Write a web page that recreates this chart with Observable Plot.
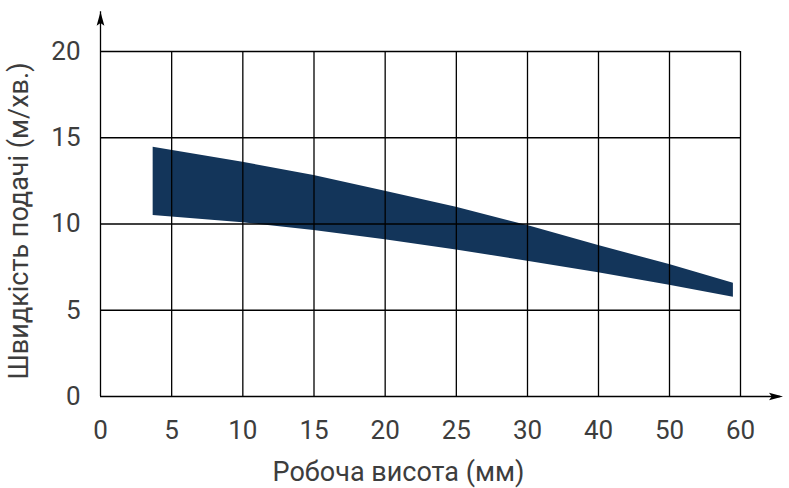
<!DOCTYPE html>
<html>
<head>
<meta charset="utf-8">
<script src="https://cdn.jsdelivr.net/npm/d3@7"></script>
<script src="https://cdn.jsdelivr.net/npm/@observablehq/plot@0.6"></script>
<style>
  html, body { margin: 0; padding: 0; background: #fff; }
  #chart svg { display: block; }
</style>
</head>
<body>
<div id="chart"></div>
<script>
// Working height (mm) along the band
const heights = [3.7, 10, 15, 20, 25, 30, 40, 50, 59];
// Upper edge of feed speed band (m/min)
const speedMax = [14.45, 13.58, 12.81, 11.9, 10.97, 9.91, 8.75, 7.65, 6.57];
// Lower edge of feed speed band (m/min)
const speedMin = [10.49, 10.07, 9.62, 9.08, 8.5, 7.84, 7.17, 6.45, 5.76];

// Axis ticks
const xTicks = [0, 5, 10, 15, 20, 25, 30, 40, 50, 60];
const yTicks = [0, 5, 10, 15, 20];
// Axis arrow extents (data units)
const xArrowEnd = 65.6;
const yArrowEnd = 22.3;

const xTitle = "Робоча висота (мм)";
const yTitle = "Швидкість подачі (м/хв.)";

const band = heights.map((h, i) => ({h, lo: speedMin[i], hi: speedMax[i]}));

// custom stealth arrowhead symbol pointing up
const arrowSymbol = {
  draw(ctx, size) {
    const r = Math.sqrt(size / Math.PI);
    ctx.moveTo(0, -r);
    ctx.lineTo(0.55 * r, r);
    ctx.lineTo(0, 0.6 * r);
    ctx.lineTo(-0.55 * r, r);
    ctx.closePath();
  }
};

const font = "Roboto, 'DejaVu Sans', sans-serif";
const textColor = "#3d3d3d";

const chart = Plot.plot({
  width: 789,
  height: 488,
  marginLeft: 100,
  marginRight: 49,
  marginTop: 51,
  marginBottom: 92,
  style: {fontFamily: font, fontSize: "26px", color: "#000", background: "#fff"},
  x: {type: "linear", domain: [0, 30, 60], range: [100, 527, 740]},
  y: {type: "linear", domain: [0, 20]},
  marks: [
    Plot.areaY(band, {x: "h", y1: "lo", y2: "hi", fill: "#13355a", curve: "linear"}),
    Plot.gridX(xTicks.filter(d => d > 0), {stroke: "#000", strokeOpacity: 1, strokeWidth: 1.3}),
    Plot.gridY(yTicks.filter(d => d > 0), {stroke: "#000", strokeOpacity: 1, strokeWidth: 1.3}),
    Plot.ruleY([0], {x1: 0, x2: xArrowEnd, stroke: "#000", strokeWidth: 1.3, clip: false}),
    Plot.ruleX([0], {y1: 0, y2: yArrowEnd, stroke: "#000", strokeWidth: 1.3, clip: false}),
    Plot.dot([{x: xArrowEnd - 0.6, y: 0}], {x: "x", y: "y", symbol: arrowSymbol, r: 7, fill: "#000", stroke: "none", rotate: 90}),
    Plot.dot([{x: 0, y: yArrowEnd - 0.4}], {x: "x", y: "y", symbol: arrowSymbol, r: 7, fill: "#000", stroke: "none"}),
    Plot.axisX(xTicks, {tickSize: 0, tickPadding: 24, label: null, fill: textColor, fontSize: 26}),
    Plot.axisY(yTicks, {tickSize: 0, tickPadding: 20, label: null, fill: textColor, fontSize: 26}),
    Plot.text([xTitle], {frameAnchor: "bottom", dy: 84, dx: -22, fill: textColor, fontSize: 27, lineAnchor: "bottom"}),
    Plot.text([yTitle], {frameAnchor: "left", textAnchor: "middle", dx: -81, dy: -3, rotate: -90, fill: textColor, fontSize: 27})
  ]
});
document.getElementById("chart").appendChild(chart);
</script>
</body>
</html>
